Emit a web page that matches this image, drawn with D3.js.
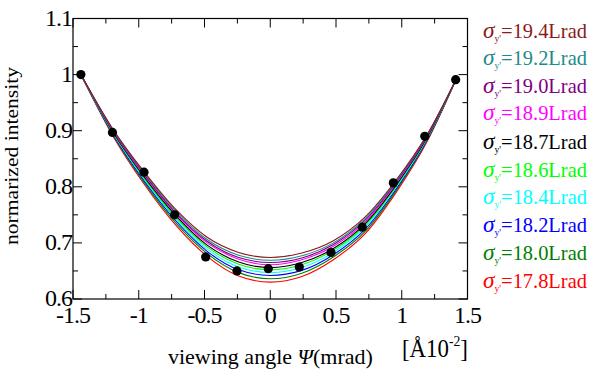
<!DOCTYPE html>
<meta charset="utf-8">
<style>
    body { margin: 0; background: #fff; }
    text { font-family: "Liberation Serif", "DejaVu Serif", serif; fill: #000; }
</style>

<div class="chart"></div>

<script src="https://cdn.jsdelivr.net/npm/d3@7"></script>

<script>
    // grid of the fitted curves (viewing angle, x10^-2 mrad)
    var curveX = [-1.44, -1.2, -0.96, -0.72, -0.48, -0.24, 0, 0.24, 0.48, 0.72, 0.96, 1.2, 1.41];

    // fitted curves, one per sigma_y'
    var sigmaLabels = ["19.4", "19.2", "19.0", "18.9", "18.7", "18.6", "18.4", "18.2", "18.0", "17.8"];
    var sigmaColors = ["#8b1a1a", "#1e8b8b", "#800080", "#ff00ff", "#000000", "#00ff00", "#00ffff", "#0000ff", "#008000", "#ff0000"];
    var c194 = [1.000, 0.904, 0.827, 0.760, 0.710, 0.683, 0.674, 0.682, 0.704, 0.746, 0.813, 0.896, 0.990];
    var c192 = [1.000, 0.903, 0.825, 0.757, 0.706, 0.678, 0.669, 0.677, 0.700, 0.743, 0.811, 0.895, 0.990];
    var c190 = [1.000, 0.902, 0.823, 0.754, 0.703, 0.674, 0.665, 0.673, 0.697, 0.740, 0.809, 0.894, 0.990];
    var c189 = [1.000, 0.901, 0.821, 0.752, 0.700, 0.671, 0.661, 0.670, 0.694, 0.737, 0.807, 0.893, 0.990];
    var c187 = [1.000, 0.899, 0.818, 0.749, 0.696, 0.666, 0.656, 0.665, 0.690, 0.734, 0.804, 0.891, 0.990];
    var c186 = [1.000, 0.898, 0.816, 0.746, 0.693, 0.662, 0.652, 0.661, 0.687, 0.731, 0.802, 0.890, 0.990];
    var c184 = [1.000, 0.897, 0.814, 0.743, 0.689, 0.657, 0.647, 0.656, 0.683, 0.728, 0.800, 0.889, 0.990];
    var c182 = [1.000, 0.895, 0.811, 0.740, 0.685, 0.652, 0.642, 0.651, 0.679, 0.724, 0.797, 0.887, 0.990];
    var c180 = [1.000, 0.894, 0.808, 0.736, 0.681, 0.647, 0.636, 0.646, 0.675, 0.720, 0.794, 0.886, 0.990];
    var c178 = [1.000, 0.892, 0.805, 0.732, 0.676, 0.641, 0.630, 0.640, 0.670, 0.716, 0.791, 0.884, 0.990];
    var curves = [c194, c192, c190, c189, c187, c186, c184, c182, c180, c178];

    // measured points
    var dotX = [-1.44, -1.2, -0.96, -0.727, -0.491, -0.253, -0.015, 0.221, 0.462, 0.70, 0.936, 1.175, 1.41];
    var dotY = [1.0, 0.897, 0.826, 0.750, 0.675, 0.650, 0.654, 0.657, 0.683, 0.728, 0.807, 0.890, 0.991];

    var xTicks = [-1.5, -1, -0.5, 0, 0.5, 1, 1.5];
    var yTicks = [0.6, 0.7, 0.8, 0.9, 1, 1.1];

    var width = 591, height = 377;
    var margin = {top: 18.5, right: 123.5, bottom: 78, left: 73};

    var svg = d3.select('.chart')
        .append("svg")
        .attr("width", width)
        .attr("height", height);

    var x = d3.scaleLinear().domain([-1.5, 1.5]).range([margin.left, width - margin.right]);
    var y = d3.scaleLinear().domain([0.6, 1.1]).range([height - margin.bottom, margin.top]);

    // ticks inside, on all four sides
    var minorX = d3.range(-1.5, 1.5001, 0.25), minorY = d3.range(0.6, 1.1001, 0.05);
    function isMajor(v, step) { return Math.abs(Math.round(v / step) * step - v) < 1e-6; }

    var tk = svg.append("g").attr("stroke", "#000").attr("stroke-width", 1);
    minorX.forEach(function (v) {
        var len = isMajor(v, 0.5) ? 9 : 5;
        tk.append("line").attr("x1", x(v)).attr("x2", x(v)).attr("y1", y(0.6)).attr("y2", y(0.6) - len);
        tk.append("line").attr("x1", x(v)).attr("x2", x(v)).attr("y1", y(1.1)).attr("y2", y(1.1) + len);
    });
    minorY.forEach(function (v) {
        var len = isMajor(v, 0.1) ? 9 : 5;
        tk.append("line").attr("y1", y(v)).attr("y2", y(v)).attr("x1", x(-1.5)).attr("x2", x(-1.5) + len);
        tk.append("line").attr("y1", y(v)).attr("y2", y(v)).attr("x1", x(1.5)).attr("x2", x(1.5) - len);
    });

    svg.append("rect")
        .attr("x", x(-1.5)).attr("y", y(1.1))
        .attr("width", x(1.5) - x(-1.5)).attr("height", y(0.6) - y(1.1))
        .attr("fill", "none").attr("stroke", "#000").attr("stroke-width", 1.2);

    // tick labels
    svg.append("g").selectAll("text")
        .data(xTicks).enter().append("text")
        .attr("x", function (d) { return x(d); })
        .attr("y", 323)
        .attr("text-anchor", "middle")
        .attr("font-size", 24)
        .attr("letter-spacing", -1)
        .text(function (d) { return d; });

    svg.append("g").selectAll("text")
        .data(yTicks).enter().append("text")
        .attr("x", 72)
        .attr("y", function (d) { return y(d) + 7; })
        .attr("text-anchor", "end")
        .attr("font-size", 24)
        .attr("letter-spacing", -1)
        .text(function (d) { return d; });

    // curves
    var line = d3.line()
        .x(function (d, i) { return x(curveX[i]); })
        .y(function (d) { return y(d); })
        .curve(d3.curveMonotoneX);

    var order = d3.range(curves.length).reverse();
    svg.append("g").selectAll("path")
        .data(order).enter().append("path")
        .attr("d", function (i) { return line(curves[i]); })
        .attr("fill", "none")
        .attr("stroke", function (i) { return sigmaColors[i]; })
        .attr("stroke-width", 1.1);

    // dots
    svg.append("g").selectAll("circle")
        .data(dotX).enter().append("circle")
        .attr("cx", function (d) { return x(d); })
        .attr("cy", function (d, i) { return y(dotY[i]); })
        .attr("r", 4.6)
        .attr("fill", "#000");

    // axis titles
    svg.append("text")
        .attr("transform", "translate(18,156) rotate(-90)")
        .attr("text-anchor", "middle")
        .attr("font-size", 19)
        .attr("textLength", 178)
        .attr("lengthAdjust", "spacingAndGlyphs")
        .text("normarized intensity");

    var xt = svg.append("text")
        .attr("x", 168).attr("y", 364)
        .attr("font-size", 21);
    xt.append("tspan").text("viewing angle  ");
    xt.append("tspan").attr("font-style", "italic").text("Ψ");
    xt.append("tspan").text("(mrad)");
    var xtLen = xt.node().getComputedTextLength();
    xt.attr("transform", "translate(168,0) scale(" + (205 / xtLen) + ",1) translate(-168,0)");

    var un = svg.append("text")
        .attr("x", 402).attr("y", 357)
        .attr("font-size", 25);
    un.append("tspan").text("[Å10");
    un.append("tspan").attr("font-size", 15).attr("dy", -11).text("-2");
    un.append("tspan").attr("dy", 11).text("]");
    var unLen = un.node().getComputedTextLength();
    un.attr("transform", "translate(402,0) scale(" + (66 / unLen) + ",1) translate(-402,0)");

    // legend
    var legendY = [31, 58.5, 86, 113.5, 142, 170, 197.5, 225, 253, 281];
    sigmaLabels.forEach(function (lab, i) {
        var t = svg.append("text")
            .attr("x", 483).attr("y", legendY[i] + 7)
            .attr("font-size", 21)
            .style("fill", sigmaColors[i]);
        t.append("tspan").attr("font-style", "italic").attr("font-size", 24).text("σ");
        t.append("tspan").attr("font-size", 10).attr("dy", 4).text("y'");
        t.append("tspan").attr("dy", -4).text("=" + lab + "Lrad");
        var len = t.node().getComputedTextLength();
        t.attr("transform", "translate(483,0) scale(" + (104 / len) + ",1) translate(-483,0)");
    });
</script>
